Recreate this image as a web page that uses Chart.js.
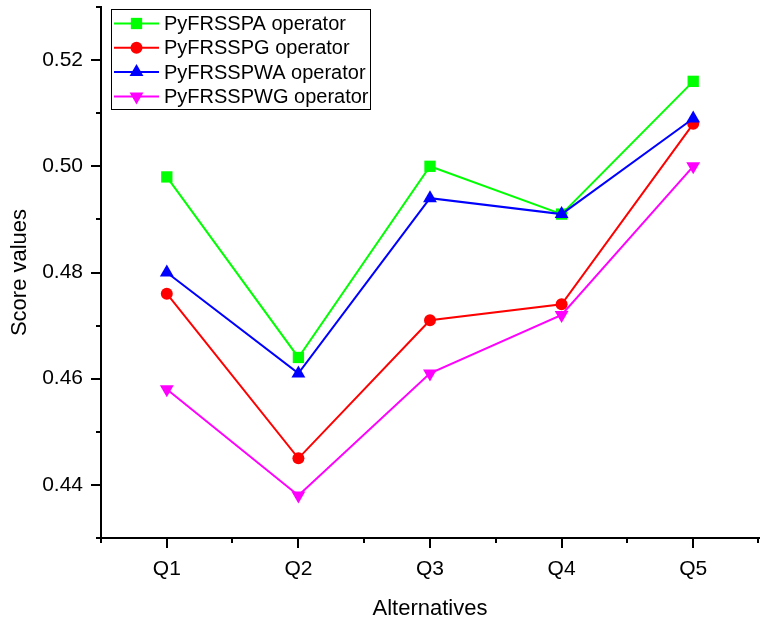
<!DOCTYPE html>
<html>
<head>
<meta charset="utf-8">
<script src="https://cdn.jsdelivr.net/npm/chart.js@4.4.1/dist/chart.umd.min.js"></script>
<style>
  html, body { margin: 0; padding: 0; background: #fff; overflow: hidden; }
  #wrap { width: 760px; height: 620px; position: relative; }
</style>
</head>
<body>
<div id="wrap"><canvas id="scoreChart"></canvas></div>
<script>
// data
const categories = ["Q1", "Q2", "Q3", "Q4", "Q5"];
const pyfrsspa = [0.498, 0.464, 0.500, 0.491, 0.516];
const pyfrsspg = [0.476, 0.445, 0.471, 0.474, 0.508];
const pyfrsspwa = [0.480, 0.461, 0.494, 0.491, 0.509];
const pyfrsspwg = [0.458, 0.438, 0.461, 0.472, 0.500];
const yTickLabels = ["0.44", "0.46", "0.48", "0.50", "0.52"];

const FONT = "'Liberation Sans', Arial, sans-serif";

// series look (Origin style)
const series = [
  { label: "PyFRSSPA operator", data: pyfrsspa, color: "#00ff00", style: "rect", radius: 8, rot: 0, order: 4 },
  { label: "PyFRSSPG operator", data: pyfrsspg, color: "#ff0000", style: "circle", radius: 6, rot: 0, order: 3 },
  { label: "PyFRSSPWA operator", data: pyfrsspwa, color: "#0000ff", style: "triangle", radius: 8, rot: 0, order: 2 },
  { label: "PyFRSSPWG operator", data: pyfrsspwg, color: "#ff00ff", style: "triangle", radius: 8, rot: 180, order: 1 },
];

// own marker drawing for the legend (same geometry as Chart.js points)
function drawMarker(ctx, style, x, y, r, rot) {
  ctx.beginPath();
  if (style === "circle") {
    ctx.arc(x, y, r, 0, Math.PI * 2);
  } else if (style === "rect") {
    const s = Math.SQRT1_2 * r;
    ctx.rect(x - s, y - s, 2 * s, 2 * s);
  } else {
    let a = rot * Math.PI / 180;
    ctx.moveTo(x + Math.sin(a) * r, y - Math.cos(a) * r);
    a += Math.PI * 2 / 3;
    ctx.lineTo(x + Math.sin(a) * r, y - Math.cos(a) * r);
    a += Math.PI * 2 / 3;
    ctx.lineTo(x + Math.sin(a) * r, y - Math.cos(a) * r);
    ctx.closePath();
  }
  ctx.fill();
}

// major / minor tick marks pointing outwards
const tickMarks = {
  id: "tickMarks",
  afterDraw(chart) {
    const ctx = chart.ctx;
    const xs = chart.scales.x, ys = chart.scales.y;
    const area = chart.chartArea;
    ctx.save();
    ctx.strokeStyle = "#000";
    ctx.lineWidth = 2;
    ctx.beginPath();
    ys.ticks.forEach((t) => {
      const py = Math.round(ys.getPixelForValue(t.value));
      const major = Math.round(t.value * 100) % 2 === 0;
      ctx.moveTo(area.left, py);
      ctx.lineTo(area.left - (major ? 10 : 5), py);
    });
    const step = xs.getPixelForValue(1) - xs.getPixelForValue(0);
    categories.forEach((c, i) => {
      const px = Math.round(xs.getPixelForValue(i));
      ctx.moveTo(px, area.bottom);
      ctx.lineTo(px, area.bottom + 10);
      const mx = Math.round(px - step / 2);
      ctx.moveTo(mx, area.bottom);
      ctx.lineTo(mx, area.bottom + 5);
    });
    const last = Math.round(xs.getPixelForValue(categories.length - 1) + step / 2) - 1;
    ctx.moveTo(last, area.bottom);
    ctx.lineTo(last, area.bottom + 5);
    ctx.stroke();
    ctx.restore();
  },
};

// boxed legend with line + marker samples
const boxLegend = {
  id: "boxLegend",
  afterDraw(chart) {
    const ctx = chart.ctx;
    const bx = 111, by = 9, bw = 259, bh = 100;
    ctx.save();
    ctx.fillStyle = "#fff";
    ctx.fillRect(bx, by, bw, bh);
    ctx.strokeStyle = "#000";
    ctx.lineWidth = 1;
    ctx.strokeRect(bx + 0.5, by + 0.5, bw, bh);
    ctx.font = "20px " + FONT;
    ctx.textBaseline = "middle";
    series.forEach((s, i) => {
      const y = 23.5 + i * 24.3;
      ctx.strokeStyle = s.color;
      ctx.lineWidth = 2;
      ctx.beginPath();
      ctx.moveTo(114, y);
      ctx.lineTo(159, y);
      ctx.stroke();
      ctx.fillStyle = s.color;
      drawMarker(ctx, s.style, 136.5, y, s.radius, s.rot);
      ctx.fillStyle = "#000";
      ctx.fillText(s.label, 164, y + 1);
    });
    ctx.restore();
  },
};

const ctx = document.getElementById("scoreChart").getContext("2d");

new Chart(ctx, {
  type: "line",
  data: {
    labels: categories,
    datasets: series.map((s) => ({
      label: s.label,
      data: s.data,
      borderColor: s.color,
      backgroundColor: s.color,
      borderWidth: 2,
      pointStyle: s.style,
      pointRadius: s.radius,
      pointRotation: s.rot,
      pointBorderWidth: 0,
      pointBackgroundColor: s.color,
      tension: 0,
      fill: false,
      order: s.order,
    })),
  },
  options: {
    responsive: true,
    maintainAspectRatio: false,
    devicePixelRatio: 1,
    animation: false,
    layout: { autoPadding: false, padding: { top: 7, right: 1, left: 0, bottom: 0 } },
    plugins: {
      legend: { display: false },
      tooltip: { enabled: false },
    },
    scales: {
      x: {
        type: "category",
        offset: true,
        grid: { display: false },
        border: { display: true, color: "#000", width: 2 },
        ticks: { color: "#000", font: { family: FONT, size: 21 }, padding: 11, maxRotation: 0 },
        title: {
          display: true,
          text: "Alternatives",
          color: "#000",
          font: { family: FONT, size: 22, lineHeight: 1 },
          padding: { top: 0, bottom: 0 },
        },
        afterFit(scale) {
          scale.height = 82;
          scale.paddingLeft = 0;
          scale.paddingRight = 0;
        },
      },
      y: {
        min: 0.43,
        max: 0.53,
        grid: { display: false },
        border: { display: true, color: "#000", width: 2 },
        ticks: {
          stepSize: 0.01,
          autoSkip: false,
          color: "#000",
          font: { family: FONT, size: 21 },
          padding: 10,
          callback: (v) => {
            const lbl = v.toFixed(2);
            return yTickLabels.includes(lbl) ? lbl : "";
          },
        },
        title: {
          display: true,
          text: "Score values",
          color: "#000",
          font: { family: FONT, size: 22, lineHeight: 1 },
          padding: { top: 9, bottom: 0 },
        },
        afterFit(scale) {
          scale.width = 101;
          scale.paddingTop = 0;
          scale.paddingBottom = 0;
        },
      },
    },
  },
  plugins: [tickMarks, boxLegend],
});
</script>
</body>
</html>
